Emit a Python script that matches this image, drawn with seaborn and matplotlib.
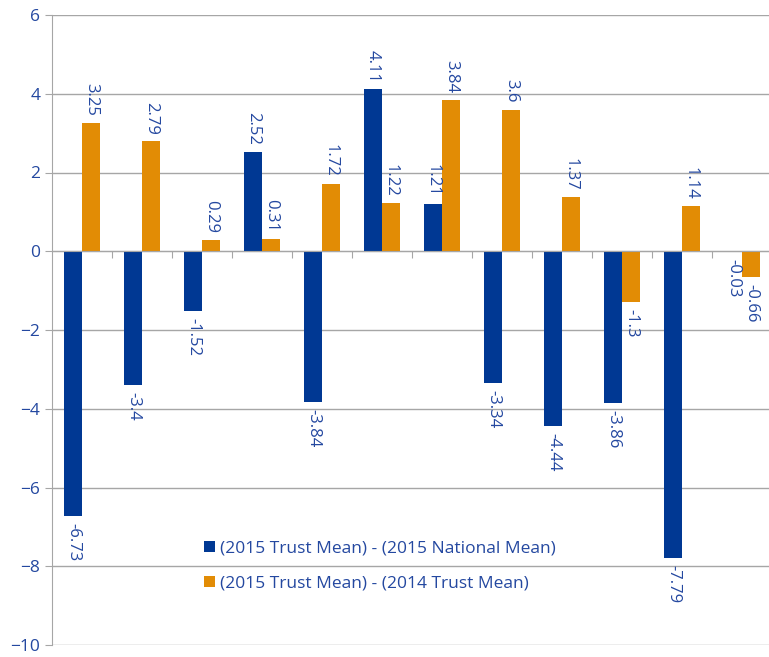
import numpy as np
import pandas as pd
import seaborn as sns
import matplotlib.pyplot as plt

groups = [str(i) for i in range(1, 13)]
national_diff = [-6.73, -3.4, -1.52, 2.52, -3.84, 4.11, 1.21, -3.34, -4.44, -3.86, -7.79, -0.03]
trust_diff = [3.25, 2.79, 0.29, 0.31, 1.72, 1.22, 3.84, 3.6, 1.37, -1.3, 1.14, -0.66]
series_names = ["(2015 Trust Mean) - (2015 National Mean)",
                "(2015 Trust Mean) - (2014 Trust Mean)"]

df = pd.DataFrame({
    "group": groups * 2,
    "value": national_diff + trust_diff,
    "series": [series_names[0]] * len(groups) + [series_names[1]] * len(groups),
})

text_col = "#2448a0"
grid_col = "#a6a6a6"

sns.set_style("white")
plt.rcParams["font.family"] = ["Open Sans", "DejaVu Sans"]

fig = plt.figure(figsize=(7.69, 6.57), dpi=100)
ax = fig.add_axes([52 / 769, 12 / 657, 720 / 769, 630 / 657])

sns.barplot(data=df, x="group", y="value", hue="series",
            palette=["#003893", "#e28c05"], width=0.6, ax=ax,
            saturation=1, legend=True, linewidth=0)

for cont in ax.containers:
    ax.bar_label(cont, fmt="%g", rotation=270, padding=5,
                 color=text_col, fontsize=12)

ax.set_ylim(-10, 6)
ax.set_yticks(np.arange(-10, 7, 2))
ax.set_xlim(-0.5, len(groups) - 0.5)
ax.yaxis.grid(True, color=grid_col, linewidth=1)
ax.set_axisbelow(True)
ax.tick_params(axis="y", colors=text_col, labelsize=12.5, length=5,
               color=grid_col, direction="out", left=True)
ax.set_xlabel("")
ax.set_ylabel("")

ax.spines["bottom"].set_position(("data", 0))
ax.spines["bottom"].set_color(grid_col)
ax.spines["left"].set_color(grid_col)
ax.spines["top"].set_visible(False)
ax.spines["right"].set_visible(False)
ax.set_xticks(np.arange(0.5, len(groups) - 1, 1))
ax.set_xticklabels([])
ax.tick_params(axis="x", length=5, color=grid_col, direction="out", bottom=True)

leg = ax.legend(loc="lower left", bbox_to_anchor=(0.19, 0.06), frameon=False,
                fontsize=12.5, handlelength=0.6, handleheight=0.6,
                handletextpad=0.3, labelspacing=1.1)
for t in leg.get_texts():
    t.set_color(text_col)

fig.savefig("out.png", dpi=100)
